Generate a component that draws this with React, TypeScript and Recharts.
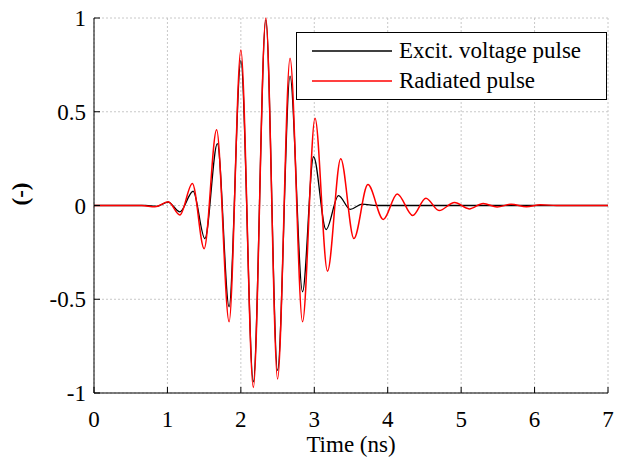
import { LineChart, Line, XAxis, YAxis, CartesianGrid } from "recharts";

// excitation voltage pulse (black) - peaks/troughs
const excitTime = [0, 0.5, 0.7, 0.85, 1.01, 1.17, 1.35, 1.51, 1.68, 1.84, 2.0, 2.17, 2.34, 2.5, 2.67, 2.84, 2.99, 3.16, 3.33, 3.49, 3.65, 3.85, 4.2, 5, 6, 7];
const excitValue = [0, 0, 0, -0.005, 0.018, -0.034, 0.076, -0.177, 0.33, -0.54, 0.773, -0.94, 0.99, -0.88, 0.69, -0.46, 0.26, -0.128, 0.053, -0.021, 0.007, 0, 0, 0, 0, 0];

// radiated pulse (red)
const radTime = [0, 0.5, 0.65, 0.83, 1.01, 1.17, 1.34, 1.5, 1.67, 1.84, 2.0, 2.17, 2.34, 2.5, 2.67, 2.84, 3.01, 3.18, 3.36, 3.54, 3.73, 3.94, 4.13, 4.34, 4.52, 4.7, 4.91, 5.11, 5.3, 5.49, 5.68, 5.89, 6.08, 6.3, 6.6, 7];
const radValue = [0, 0, 0, -0.007, 0.02, -0.05, 0.117, -0.23, 0.404, -0.62, 0.83, -0.97, 1.0, -0.925, 0.786, -0.62, 0.466, -0.35, 0.25, -0.176, 0.112, -0.074, 0.062, -0.053, 0.039, -0.027, 0.016, -0.018, 0.011, -0.008, 0.007, -0.006, 0.004, 0, 0, 0];

const xTicks = [0, 1, 2, 3, 4, 5, 6, 7];
const yTicks = [-1, -0.5, 0, 0.5, 1];

const seriesNames = ["Excit. voltage pulse", "Radiated pulse"];
const seriesColors = ["#000000", "#ff0000"];

const excitData = excitTime.map((t, i) => ({ t, v: excitValue[i] }));
const radData = radTime.map((t, i) => ({ t, v: radValue[i] }));

const FONT = "'Liberation Serif', 'Times New Roman', serif";
const tickStyle = { fontSize: 23, fill: "#000", fontFamily: FONT };

const XTick = (p: any) => (
  <text x={p.x} y={p.y} dy="0.75em" textAnchor="middle" fontFamily={FONT} fontSize={23} fill="#000">
    {p.payload.value}
  </text>
);

const YTick = (p: any) => (
  <text x={p.x} y={p.y} dy="0.35em" textAnchor="end" fontFamily={FONT} fontSize={23} fill="#000">
    {p.payload.value}
  </text>
);

function LegendBox() {
  return (
    <div
      style={{
        position: "absolute",
        left: 288,
        top: 32,
        width: 311,
        height: 68,
        border: "1px solid #000",
        background: "#fff",
        boxSizing: "border-box",
        padding: "3px 0 0 15px",
        fontFamily: FONT,
        fontSize: 23,
        lineHeight: "30px",
      }}
    >
      {seriesNames.map((name, i) => (
        <div key={name} style={{ display: "flex", alignItems: "center", height: 30 }}>
          <svg width={80} height={4} style={{ marginRight: 7 }}>
            <line x1={0} y1={2} x2={80} y2={2} stroke={seriesColors[i]} strokeWidth={1.5} />
          </svg>
          <span>{name}</span>
        </div>
      ))}
    </div>
  );
}

export default function App() {
  return (
    <div style={{ position: "relative", width: 610, height: 457, marginTop: -8, fontFamily: FONT }}>
      <LineChart width={610} height={457} margin={{ top: 18, right: 10, bottom: 0, left: 0 }} style={{ fontFamily: FONT }}>
        <CartesianGrid stroke="#c8c8c8" strokeDasharray="2 2" />
        <XAxis
          dataKey="t"
          type="number"
          domain={[0, 7]}
          ticks={xTicks}
          allowDuplicatedCategory={false}
          height={64}
          stroke="#000"
          tickSize={-6}
          tickMargin={23}
          tick={XTick}
          label={{ value: "Time (ns)", position: "insideBottom", offset: 5, style: tickStyle }}
        />
        <XAxis
          xAxisId="top"
          orientation="top"
          type="number"
          domain={[0, 7]}
          ticks={xTicks}
          height={0}
          stroke="#000"
          tickSize={-6}
          tick={() => <g />}
        />
        <YAxis
          type="number"
          domain={[-1, 1]}
          ticks={yTicks}
          width={86}
          stroke="#000"
          tickSize={-6}
          tickMargin={14}
          tick={YTick}
          label={{ value: "(-)", angle: -90, position: "insideLeft", offset: 12, style: { ...tickStyle, fontWeight: "bold" } }}
        />
        <YAxis
          yAxisId="right"
          orientation="right"
          type="number"
          domain={[-1, 1]}
          ticks={yTicks}
          width={0}
          stroke="#000"
          tickSize={-6}
          tick={() => <g />}
        />
        <Line data={excitData} dataKey="v" name={seriesNames[0]} type="monotone" stroke={seriesColors[0]} strokeWidth={1.3} dot={false} isAnimationActive={false} />
        <Line data={radData} dataKey="v" name={seriesNames[1]} type="monotone" stroke={seriesColors[1]} strokeWidth={1.5} dot={false} isAnimationActive={false} />
      </LineChart>
      <LegendBox />
    </div>
  );
}
